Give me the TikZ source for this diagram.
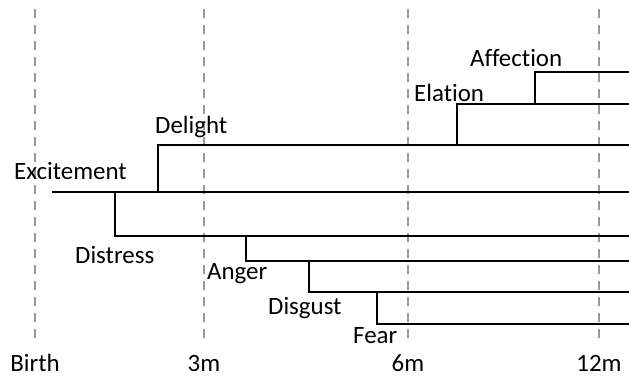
\documentclass[tikz,border=0pt]{standalone}
\usepackage{fontspec}
\setmainfont{Carlito}[Ligatures=NoCommon]
\begin{document}
\begin{tikzpicture}[x=1bp, y=-1bp,
  guide/.style={draw=black!40, line width=1.8bp, dash pattern=on 9bp off 7bp},
  branch/.style={draw=black, line width=2bp},
  lbl/.style={anchor=base west, inner sep=0pt, font=\fontsize{25}{29}\selectfont},
  tick/.style={anchor=base, inner sep=0pt, font=\fontsize{25}{29}\selectfont}]
\useasboundingbox (0,0) rectangle (629,376);

% age guides
\foreach \gx/\gname/\gtext in {35/birth/Birth, 204/three/3m, 408/six/6m, 599/twelve/12m}{
  \coordinate (\gname-top) at (\gx,9);
  \coordinate (\gname-bot) at (\gx,344);
  \draw[guide] (\gname-top) -- (\gname-bot);
  \node[tick] (\gname-lbl) at (\gx,371) {\gtext};
}

% branch points
\coordinate (exc-start) at (52,192);
\coordinate (exc-end)   at (629,192);
\coordinate (del-root)  at (158,192);
\coordinate (del-end)   at (629,145);
\coordinate (dis-root)  at (115,192);
\coordinate (dis-end)   at (629,236);
\coordinate (ang-root)  at (246,236);
\coordinate (ang-end)   at (629,261);
\coordinate (dsg-root)  at (309,261);
\coordinate (dsg-end)   at (629,292);
\coordinate (fea-root)  at (377,292);
\coordinate (fea-end)   at (629,324);
\coordinate (ela-root)  at (457,145);
\coordinate (ela-end)   at (629,104);
\coordinate (aff-root)  at (535,104);
\coordinate (aff-end)   at (629,72);

% emotion lines
\draw[branch] (exc-start) -- (exc-end);
\draw[branch] (del-root) |- (del-end);
\draw[branch] (dis-root) |- (dis-end);
\draw[branch] (ang-root) |- (ang-end);
\draw[branch] (dsg-root) |- (dsg-end);
\draw[branch] (fea-root) |- (fea-end);
\draw[branch] (ela-root) |- (ela-end);
\draw[branch] (aff-root) |- (aff-end);

% labels
\node[lbl] (excitement) at (14,179) {Excitement};
\node[lbl] (delight)    at (155,133) {Delight};
\node[lbl] (distress)   at (75,263) {Distress};
\node[lbl] (anger)      at (207,279) {Anger};
\node[lbl] (disgust)    at (268,314) {Disgust};
\node[lbl] (fear)       at (353,343) {Fear};
\node[lbl] (elation)    at (414,101) {Elation};
\node[lbl] (affection)  at (470,66) {Affection};
\end{tikzpicture}
\end{document}
